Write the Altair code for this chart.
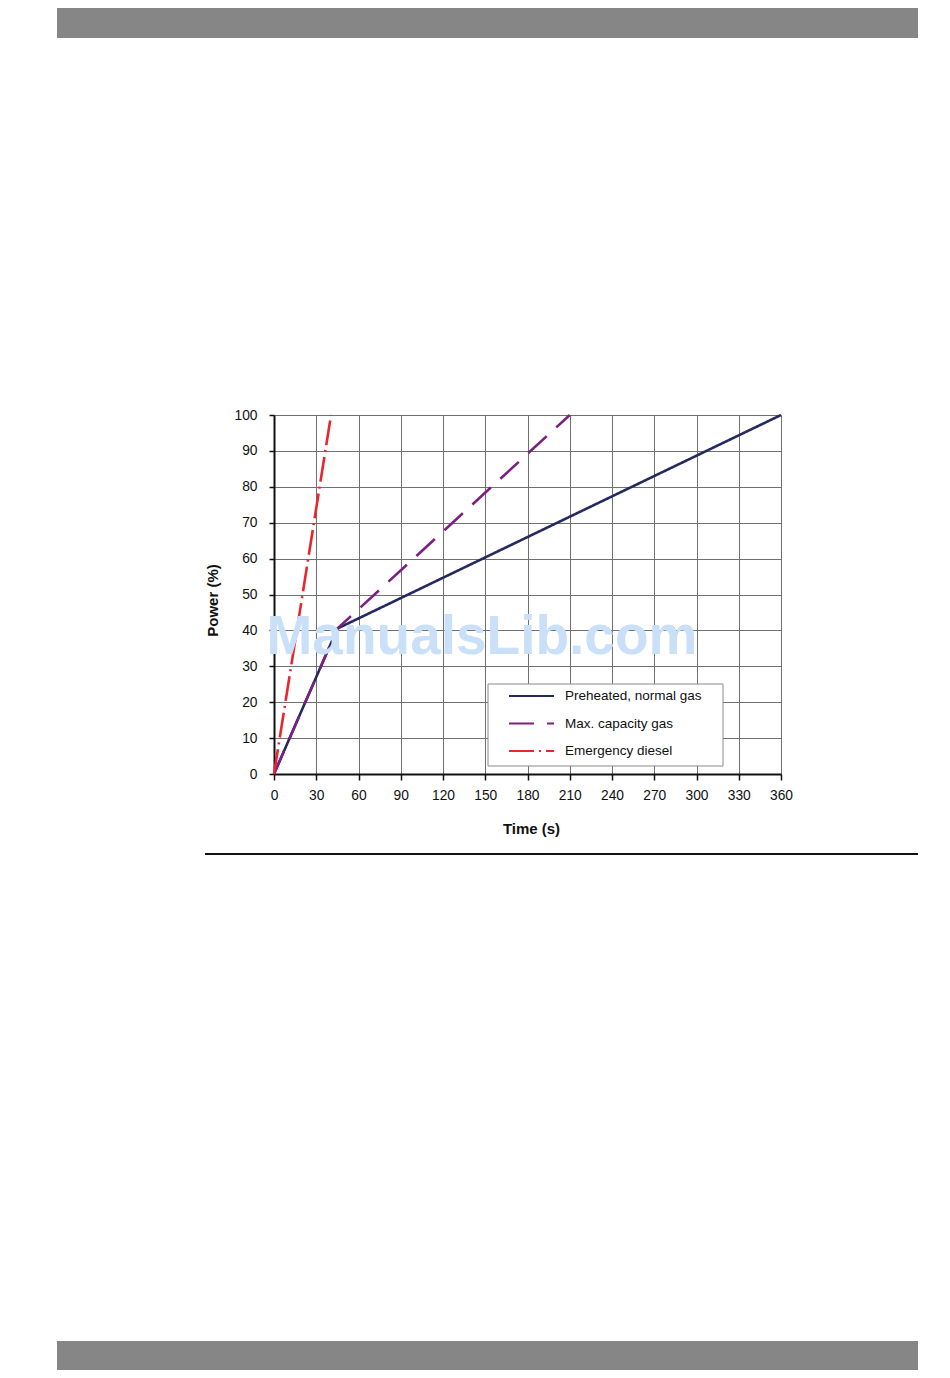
import altair as alt
import pandas as pd

# ---- data ----
series_names = ["Preheated, normal gas", "Max. capacity gas", "Emergency diesel"]
preheated_time = [0, 45, 360]
preheated_power = [0, 40.5, 100]
maxcap_time = [0, 45, 210]
maxcap_power = [0, 40.5, 100]
diesel_time = [0, 40.5]
diesel_power = [0, 100]

x_ticks = list(range(0, 361, 30))
y_ticks = list(range(0, 101, 10))

colors = ["#252a5e", "#7b1f82", "#e8262b"]
dashes = [[1, 0], [25, 13], [25, 5, 2, 5]]

rows = []
for name, ts, ps in [
    (series_names[0], preheated_time, preheated_power),
    (series_names[1], maxcap_time, maxcap_power),
    (series_names[2], diesel_time, diesel_power),
]:
    for i, (t, p) in enumerate(zip(ts, ps)):
        rows.append({"series": name, "time": t, "power": p, "idx": i})
df = pd.DataFrame(rows)

FONT = "Liberation Sans"
W, H = 507, 359

x_enc = alt.X(
    "time:Q",
    scale=alt.Scale(domain=[0, 360], nice=False),
    axis=alt.Axis(
        values=x_ticks, title="Time (s)", titleFont=FONT, titleFontSize=15,
        titleFontWeight="bold", titleColor="#111", titleX=257, titleY=59,
        titleBaseline="alphabetic", titleAlign="center",
        labelFont=FONT, labelFontSize=13.8, labelColor="#111", labelPadding=8,
        labelFlush=False, labelOverlap=False,
        tickSize=6, tickColor="#111", tickWidth=1.5,
        domainColor="#111", domainWidth=2,
        grid=True, gridColor="#707070", gridWidth=1,
    ),
)
y_enc = alt.Y(
    "power:Q",
    scale=alt.Scale(domain=[0, 100], nice=False),
    axis=alt.Axis(
        values=y_ticks, title="Power (%)", titleFont=FONT, titleFontSize=15,
        titleFontWeight="bold", titleColor="#111", titleX=-57, titleY=185,
        titleAngle=270, titleBaseline="alphabetic", titleAlign="center",
        labelFont=FONT, labelFontSize=13.8, labelColor="#111", labelPadding=12,
        labelFlush=False, labelOverlap=False,
        tickSize=5, tickColor="#111", tickWidth=1.5,
        domainColor="#111", domainWidth=2,
        grid=True, gridColor="#707070", gridWidth=1,
    ),
)

color_enc = alt.Color(
    "series:N",
    scale=alt.Scale(domain=series_names, range=colors),
    legend=alt.Legend(
        title=None, orient="none", legendX=234, legendY=274,
        symbolType="stroke", symbolSize=2025, symbolStrokeWidth=2,
        labelFont=FONT, labelFontSize=13.5, labelColor="#111", labelOffset=10,
        clipHeight=14, rowPadding=13.5, padding=0,
    ),
)
dash_enc = alt.StrokeDash(
    "series:N",
    scale=alt.Scale(domain=series_names, range=dashes),
    legend=None,
)

base = alt.Chart(df)
one = "datum.idx == 0 && datum.series == 'Emergency diesel'"

# legend frame (white box that covers the grid)
legend_box = base.mark_rect(fill="white", stroke="#8a8a8a", strokeWidth=1).encode(
    x=alt.value(214), x2=alt.value(449), y=alt.value(269), y2=alt.value(351)
).transform_filter(one)

def line_layer(name):
    return base.mark_line(strokeWidth=2.6).encode(
        x=x_enc, y=y_enc, color=color_enc, strokeDash=dash_enc, order="idx:Q"
    ).transform_filter(alt.datum.series == name)

lines = [line_layer(n) for n in series_names]

watermark = base.mark_text(
    text="ManualsLib.com", font=FONT, fontSize=55, fontWeight="bold",
    color="#cadff8", align="center", baseline="alphabetic",
).encode(x=alt.value(208), y=alt.value(239)).transform_filter(one)

top_bar = base.mark_rect(color="#868686").encode(
    x=alt.value(-217), x2=alt.value(644), y=alt.value(-407), y2=alt.value(-377)
).transform_filter(one)

bottom_bar = base.mark_rect(color="#868686").encode(
    x=alt.value(-217), x2=alt.value(644), y=alt.value(926), y2=alt.value(955)
).transform_filter(one)

sep_rule = base.mark_rule(color="#111", strokeWidth=2).encode(
    x=alt.value(-69), x2=alt.value(644), y=alt.value(439)
).transform_filter(one)

chart = alt.layer(
    legend_box, *lines, watermark, top_bar, bottom_bar, sep_rule
).properties(
    width=W, height=H,
    autosize=alt.AutoSizeParams(type="none"),
    padding={"left": 266, "top": 407, "right": 160, "bottom": 596},
).configure_view(stroke=None).configure(background="white")

chart.save("out.html", embed_options={"renderer": "svg", "actions": False})
